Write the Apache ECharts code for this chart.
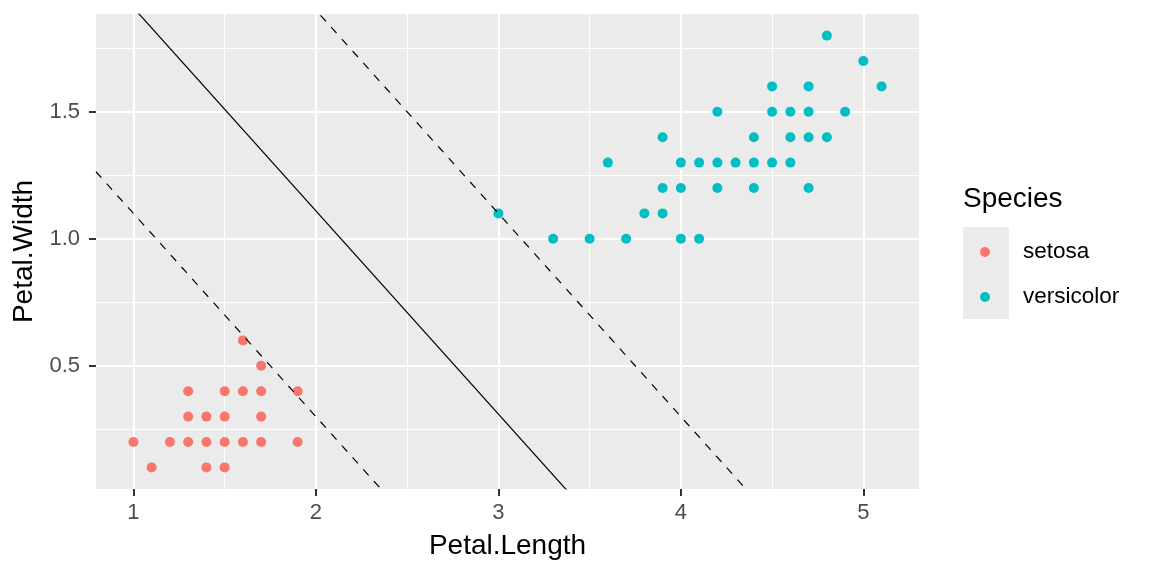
<!DOCTYPE html>
<html>
<head>
<meta charset="utf-8">
<script src="https://cdn.jsdelivr.net/npm/echarts@6/dist/echarts.min.js"></script>
<style>html,body{margin:0;padding:0;background:#fff;}#c{width:1152px;height:576px;}</style>
</head>
<body>
<div id="c"></div>
<script>
const setosaLength = [1.0,1.1,1.2,1.3,1.3,1.3,1.4,1.4,1.4,1.5,1.5,1.5,1.5,1.6,1.6,1.6,1.7,1.7,1.7,1.7,1.9,1.9];
const setosaWidth  = [0.2,0.1,0.2,0.2,0.3,0.4,0.1,0.2,0.3,0.1,0.2,0.3,0.4,0.2,0.4,0.6,0.2,0.3,0.4,0.5,0.2,0.4];
const versicolorLength = [4.8,5.0,4.5,4.7,5.1,4.2,4.5,4.6,4.7,4.9,3.9,4.4,4.6,4.7,4.8,3.6,4.0,4.1,4.2,4.3,4.4,4.5,4.6,3.9,4.0,4.2,4.4,4.7,3.0,3.8,3.9,3.3,3.5,3.7,4.0,4.1];
const versicolorWidth  = [1.8,1.7,1.6,1.6,1.6,1.5,1.5,1.5,1.5,1.5,1.4,1.4,1.4,1.4,1.4,1.3,1.3,1.3,1.3,1.3,1.3,1.3,1.3,1.2,1.2,1.2,1.2,1.2,1.1,1.1,1.1,1.0,1.0,1.0,1.0,1.0];
const lineSlope = -0.8;
const lineIntercepts = [2.71, 1.9, 3.5];
const lineTypes = ['solid', [8,8], [8,8]];
const xMajorTicks = [1,2,3,4,5];
const xMinorTicks = [1.5,2.5,3.5,4.5];
const yMajorTicks = [0.5,1.0,1.5];
const yMinorTicks = [0.25,0.75,1.25,1.75];
const xRange = [0.795, 5.305];
const yRange = [0.015, 1.885];

const FONT = 'Liberation Sans';
const zip = (a,b) => a.map((v,i)=>[v,b[i]]);

const baseX = {type:'value', min:xRange[0], max:xRange[1], axisLine:{show:false}};
const baseY = {type:'value', min:yRange[0], max:yRange[1], axisLine:{show:false}};

const lineSeries = lineIntercepts.map((b,i)=>({
  type:'line', xAxisIndex:0, yAxisIndex:0, clip:true, symbol:'none', silent:true, z:5,
  lineStyle:{color:'#000', width:1.2, type:lineTypes[i]},
  data: xRange.map(x=>[x, b + lineSlope*x])
}));

const chart = echarts.init(document.getElementById('c'));
chart.setOption({
  animation:false,
  backgroundColor:'#fff',
  grid:{left:96, right:233, top:14, bottom:87, show:true, backgroundColor:'#EBEBEB', borderWidth:0},
  xAxis:[
    Object.assign({}, baseX, {
      name:'Petal.Length', nameLocation:'middle', nameGap:43,
      nameTextStyle:{fontFamily:FONT, fontSize:28, color:'#000'},
      axisTick:{show:true, length:7, lineStyle:{color:'#333', width:2}, customValues:xMajorTicks},
      axisLabel:{customValues:xMajorTicks, fontFamily:FONT, fontSize:22, color:'#4D4D4D', margin:13},
      splitLine:{show:true, lineStyle:{color:'#fff', width:2}}
    }),
    Object.assign({}, baseX, {
      axisTick:{show:false, customValues:xMinorTicks},
      axisLabel:{show:false, customValues:xMinorTicks},
      splitLine:{show:true, lineStyle:{color:'#fff', width:1}}
    })
  ],
  yAxis:[
    Object.assign({}, baseY, {
      name:'Petal.Width', nameLocation:'middle', nameGap:54, nameRotate:90,
      nameTextStyle:{fontFamily:FONT, fontSize:28, color:'#000'},
      axisTick:{show:true, length:7, lineStyle:{color:'#333', width:2}, customValues:yMajorTicks},
      axisLabel:{customValues:yMajorTicks, fontFamily:FONT, fontSize:22, color:'#4D4D4D', margin:16,
        formatter:v=>Number(v).toFixed(1)},
      splitLine:{show:true, lineStyle:{color:'#fff', width:2}}
    }),
    Object.assign({}, baseY, {
      axisTick:{show:false, customValues:yMinorTicks},
      axisLabel:{show:false, customValues:yMinorTicks},
      splitLine:{show:true, lineStyle:{color:'#fff', width:1}}
    })
  ],
  title:{text:'Species', left:963, top:185, padding:0,
    textStyle:{fontFamily:FONT, fontSize:28, color:'#000', fontWeight:'normal'}},
  graphic:[{type:'rect', left:963, top:227, shape:{width:46, height:92}, style:{fill:'#EBEBEB'}, silent:true, z:-1}],
  legend:{orient:'vertical', left:980, top:240, padding:0, itemWidth:38, itemHeight:10, itemGap:21,
    icon:'circle', data:['setosa','versicolor'],
    textStyle:{fontFamily:FONT, fontSize:22.5, color:'#000', lineHeight:24, padding:[0,0,0,14]}},
  series:[
    {name:'setosa', type:'scatter', symbolSize:10, itemStyle:{color:'#F8766D', opacity:1}, z:3, data:zip(setosaLength,setosaWidth)},
    {name:'versicolor', type:'scatter', symbolSize:10, itemStyle:{color:'#00BFC4', opacity:1}, z:3, data:zip(versicolorLength,versicolorWidth)}
  ].concat(lineSeries)
});
</script>
</body>
</html>
